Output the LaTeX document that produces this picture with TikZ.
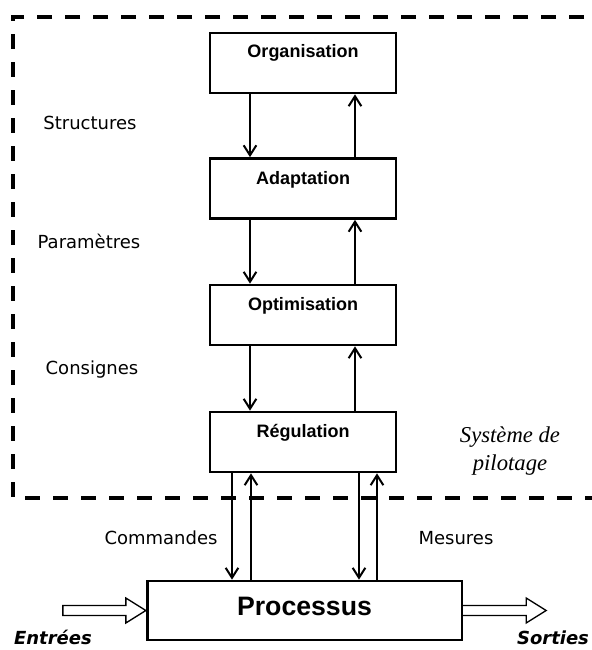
\documentclass[tikz,border=0pt]{standalone}
\usepackage{fontspec}
\setmainfont{Liberation Sans}
\newfontfamily\verdfont{DejaVu Sans}
\newfontfamily\romfont{Liberation Serif}
\usetikzlibrary{arrows.meta,positioning}

\begin{document}
\begin{tikzpicture}
        [x=0.75pt, y=-0.75pt,
        box/.style={draw, line width=2pt, minimum width=139.5pt, minimum height=45pt, inner sep=0pt},
        boxlabel/.style={font=\fontsize{13.5}{16}\selectfont\bfseries, inner sep=0pt},
        sidelabel/.style={font=\verdfont\fontsize{13.5}{16}\selectfont, text height=0.75em, text depth=0.25em, inner sep=0pt},
        iolabel/.style={font=\verdfont\fontsize{13.5}{16}\selectfont\bfseries\itshape, text height=0.75em, text depth=0.25em, inner sep=0pt},
        pilotlabel/.style={font=\romfont\fontsize{17}{21}\selectfont\itshape, align=center, inner sep=0pt},
        flow/.style={line width=1.5pt, -{Straight Barb[length=7.5pt,width=9.5pt]}},
        bigarrow/.style={draw, line width=1pt, line join=miter},
        frame/.style={line width=3pt, dash pattern=on 11.25pt off 9.75pt}]

        \useasboundingbox (0,0) rectangle (592,650);
        \clip (0,0) rectangle (592,650);

        % dashed frame of the control system
        \draw[frame] (640,17) -- (13,17) -- (13,498) -- (640,498);

        % the four levels
        \node[box] (org) at (303,63) {};
        \node[box] (adapt) at (303,188.5) {};
        \node[box] (optim) at (303,315) {};
        \node[box] (regul) at (303,442) {};
        \node[boxlabel] (orgT) at (303,53) {Organisation};
        \node[boxlabel] (adaptT) at (303,180) {Adaptation};
        \node[boxlabel] (optimT) at (303,306) {Optimisation};
        \node[boxlabel] (regulT) at (303,433) {Régulation};

        % process
        \node[box, minimum width=236pt, minimum height=44.25pt] (proc) at (304.5,610.5) {};
        \node[boxlabel, font=\fontsize{20}{24}\selectfont\bfseries] (procT) at (304.5,606) {Processus};

        % columns of the arrows
        \coordinate (dn) at (250,0);
        \coordinate (up) at (355,0);
        \coordinate (cmdDn) at (232,0);
        \coordinate (cmdUp) at (251,0);
        \coordinate (mesDn) at (359,0);
        \coordinate (mesUp) at (377,0);

        % downward links
        \draw[flow] (org.south -| dn) -- (adapt.north -| dn);
        \draw[flow] (adapt.south -| dn) -- (optim.north -| dn);
        \draw[flow] (optim.south -| dn) -- (regul.north -| dn);
        % upward links
        \draw[flow] (adapt.north -| up) -- (org.south -| up);
        \draw[flow] (optim.north -| up) -- (adapt.south -| up);
        \draw[flow] (regul.north -| up) -- (optim.south -| up);

        % links to the process
        \draw[flow] (regul.south -| cmdDn) -- (proc.north -| cmdDn);
        \draw[flow] (proc.north -| cmdUp) -- (regul.south -| cmdUp);
        \draw[flow] (regul.south -| mesDn) -- (proc.north -| mesDn);
        \draw[flow] (proc.north -| mesUp) -- (regul.south -| mesUp);

        % inputs and outputs
        \draw[bigarrow] (proc.west) -- ++(-20,-12.5) -- ++(0,7.5) -- ++(-63,0)
          -- ++(0,10) -- ++(63,0) -- ++(0,7.5) -- cycle;
        \draw[bigarrow] (proc.east) ++(0,-5) -- ++(63,0) -- ++(0,-7.5) -- ++(20,12.5)
          -- ++(-20,12.5) -- ++(0,-7.5) -- ++(-63,0);

        % labels
        \node[sidelabel] (structures) at (90,126) {Structures};
        \node[sidelabel] (parametres) at (89,245) {Paramètres};
        \node[sidelabel] (consignes) at (92,371) {Consignes};
        \node[sidelabel] (commandes) at (161,541) {Commandes};
        \node[sidelabel] (mesures) at (456,541) {Mesures};
        \node[iolabel] (entrees) at (53,641) {Entrées};
        \node[iolabel] (sorties) at (553,641) {Sorties};
        \node[pilotlabel] (pilotage) at (510,451) {Système de\\pilotage};

\end{tikzpicture}
\end{document}
